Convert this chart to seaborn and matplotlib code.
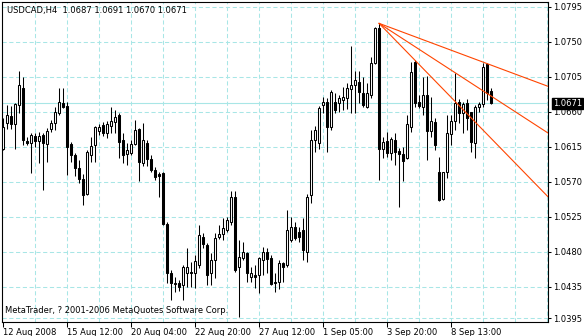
import numpy as np
import pandas as pd
import matplotlib
matplotlib.use("Agg")
import matplotlib.pyplot as plt
import matplotlib.transforms as mtransforms
import seaborn as sns

# ---------------- data ----------------
symbol_header = "USDCAD,H4  1.0687 1.0691 1.0670 1.0671"
copyright_text = "MetaTrader, ? 2001-2006 MetaQuotes Software Corp."

opens = [1.0612, 1.0646, 1.0655, 1.0645, 1.0669, 1.0691, 1.0623, 1.0620, 1.0629, 1.0623,
         1.0630, 1.0619, 1.0638, 1.0646, 1.0659, 1.0672, 1.0668, 1.0619, 1.0605, 1.0588,
         1.0574, 1.0555, 1.0605, 1.0618, 1.0636, 1.0643, 1.0633, 1.0642, 1.0647, 1.0656,
         1.0624, 1.0606, 1.0607, 1.0619, 1.0638, 1.0594, 1.0620, 1.0600, 1.0585, 1.0580,
         1.0582, 1.0516, 1.0453, 1.0439, 1.0440, 1.0438, 1.0453, 1.0454, 1.0453, 1.0463,
         1.0499, 1.0489, 1.0453, 1.0470, 1.0499, 1.0503, 1.0508, 1.0519, 1.0551, 1.0461,
         1.0472, 1.0479, 1.0448, 1.0450, 1.0450, 1.0470, 1.0480, 1.0472, 1.0441, 1.0441,
         1.0466, 1.0463, 1.0495, 1.0512, 1.0506, 1.0508, 1.0480, 1.0553, 1.0624, 1.0620,
         1.0669, 1.0673, 1.0641, 1.0673, 1.0672, 1.0675, 1.0678, 1.0690, 1.0695, 1.0699,
         1.0684, 1.0666, 1.0682, 1.0723, 1.0768, 1.0612, 1.0623, 1.0607, 1.0624, 1.0610,
         1.0606, 1.0601, 1.0641, 1.0724, 1.0673, 1.0666, 1.0682, 1.0636, 1.0647, 1.0583,
         1.0548, 1.0583, 1.0632, 1.0648, 1.0673, 1.0659, 1.0672, 1.0660, 1.0620, 1.0666,
         1.0670, 1.0722, 1.0687]

highs = [1.0652, 1.0669, 1.0668, 1.0672, 1.0713, 1.0705, 1.0628, 1.0633, 1.0633, 1.0634,
         1.0633, 1.0639, 1.0650, 1.0666, 1.0691, 1.0691, 1.0673, 1.0621, 1.0607, 1.0598,
         1.0580, 1.0611, 1.0628, 1.0642, 1.0645, 1.0647, 1.0648, 1.0666, 1.0663, 1.0659,
         1.0633, 1.0620, 1.0624, 1.0650, 1.0639, 1.0646, 1.0624, 1.0605, 1.0589, 1.0583,
         1.0583, 1.0519, 1.0457, 1.0448, 1.0444, 1.0463, 1.0485, 1.0467, 1.0476, 1.0515,
         1.0504, 1.0492, 1.0479, 1.0504, 1.0515, 1.0524, 1.0525, 1.0558, 1.0558, 1.0495,
         1.0493, 1.0480, 1.0461, 1.0463, 1.0474, 1.0486, 1.0485, 1.0476, 1.0453, 1.0470,
         1.0467, 1.0534, 1.0525, 1.0519, 1.0512, 1.0524, 1.0555, 1.0637, 1.0642, 1.0668,
         1.0679, 1.0678, 1.0688, 1.0684, 1.0682, 1.0692, 1.0697, 1.0745, 1.0713, 1.0713,
         1.0705, 1.0697, 1.0731, 1.0769, 1.0774, 1.0628, 1.0634, 1.0628, 1.0633, 1.0614,
         1.0615, 1.0656, 1.0724, 1.0727, 1.0682, 1.0705, 1.0706, 1.0679, 1.0652, 1.0602,
         1.0583, 1.0656, 1.0656, 1.0710, 1.0677, 1.0673, 1.0677, 1.0660, 1.0669, 1.0673,
         1.0723, 1.0723, 1.0691]

lows = [1.0611, 1.0638, 1.0638, 1.0612, 1.0659, 1.0618, 1.0618, 1.0582, 1.0615, 1.0594,
        1.0560, 1.0596, 1.0634, 1.0637, 1.0656, 1.0665, 1.0579, 1.0596, 1.0578, 1.0569,
        1.0540, 1.0553, 1.0596, 1.0596, 1.0630, 1.0629, 1.0627, 1.0633, 1.0633, 1.0601,
        1.0594, 1.0592, 1.0605, 1.0618, 1.0571, 1.0591, 1.0591, 1.0583, 1.0573, 1.0551,
        1.0515, 1.0440, 1.0418, 1.0429, 1.0430, 1.0418, 1.0435, 1.0435, 1.0434, 1.0460,
        1.0485, 1.0438, 1.0438, 1.0447, 1.0497, 1.0495, 1.0506, 1.0515, 1.0454, 1.0396,
        1.0470, 1.0441, 1.0441, 1.0434, 1.0427, 1.0450, 1.0453, 1.0438, 1.0429, 1.0433,
        1.0441, 1.0461, 1.0493, 1.0495, 1.0493, 1.0470, 1.0467, 1.0543, 1.0609, 1.0612,
        1.0659, 1.0609, 1.0637, 1.0659, 1.0660, 1.0663, 1.0664, 1.0659, 1.0659, 1.0672,
        1.0666, 1.0665, 1.0678, 1.0722, 1.0573, 1.0601, 1.0602, 1.0598, 1.0592, 1.0538,
        1.0571, 1.0600, 1.0634, 1.0666, 1.0665, 1.0656, 1.0598, 1.0628, 1.0611, 1.0546,
        1.0547, 1.0575, 1.0618, 1.0637, 1.0646, 1.0633, 1.0637, 1.0609, 1.0601, 1.0660,
        1.0666, 1.0675, 1.0670]

closes = [1.0641, 1.0656, 1.0645, 1.0670, 1.0695, 1.0624, 1.0620, 1.0630, 1.0623, 1.0629,
          1.0620, 1.0636, 1.0646, 1.0660, 1.0673, 1.0666, 1.0615, 1.0605, 1.0588, 1.0574,
          1.0553, 1.0609, 1.0616, 1.0641, 1.0641, 1.0633, 1.0645, 1.0648, 1.0654, 1.0621,
          1.0605, 1.0611, 1.0619, 1.0637, 1.0596, 1.0624, 1.0600, 1.0585, 1.0576, 1.0578,
          1.0516, 1.0453, 1.0440, 1.0440, 1.0435, 1.0461, 1.0461, 1.0453, 1.0469, 1.0502,
          1.0490, 1.0450, 1.0470, 1.0498, 1.0503, 1.0511, 1.0521, 1.0551, 1.0457, 1.0474,
          1.0480, 1.0453, 1.0453, 1.0448, 1.0472, 1.0480, 1.0471, 1.0439, 1.0440, 1.0466,
          1.0461, 1.0508, 1.0512, 1.0498, 1.0499, 1.0483, 1.0551, 1.0624, 1.0637, 1.0665,
          1.0673, 1.0641, 1.0686, 1.0663, 1.0678, 1.0679, 1.0691, 1.0695, 1.0701, 1.0686,
          1.0669, 1.0684, 1.0723, 1.0768, 1.0612, 1.0621, 1.0607, 1.0625, 1.0609, 1.0606,
          1.0597, 1.0645, 1.0711, 1.0672, 1.0668, 1.0682, 1.0636, 1.0648, 1.0618, 1.0547,
          1.0583, 1.0633, 1.0648, 1.0672, 1.0659, 1.0670, 1.0652, 1.0621, 1.0666, 1.0670,
          1.0718, 1.0684, 1.0671]

date_labels = ["12 Aug 2008", "15 Aug 12:00", "20 Aug 04:00", "22 Aug 20:00",
               "27 Aug 12:00", "1 Sep 05:00", "3 Sep 20:00", "8 Sep 13:00"]
date_label_bars = [0, 16, 32, 48, 64, 80, 96, 112]
price_ticks = [1.0795, 1.0750, 1.0705, 1.0660, 1.0615, 1.0570, 1.0525, 1.0480, 1.0435, 1.0395]
current_price = 1.0671

fan_anchor_bar = 94
fan_anchor_price = 1.0774
fan_end_bar = 136.25
fan_end_prices = [1.0693, 1.0633, 1.0551]

# ---------------- style ----------------
sns.set_style("white")
plt.rcParams['font.family'] = ['DejaVu Sans']

GRID = "#a8e6e6"
FAN = "#ff4500"

df = pd.DataFrame({"bar": np.arange(len(opens)), "open": opens, "high": highs,
                   "low": lows, "close": closes})
df["bull"] = df["close"] >= df["open"]
df["body_lo"] = df[["open", "close"]].min(axis=1)
df["body_h"] = (df["close"] - df["open"]).abs()

W, H = 584, 336
fig = plt.figure(figsize=(W / 100, H / 100), dpi=100)
fig.patch.set_facecolor("white")
ax = fig.add_axes([2 / W, 1 - 322 / H, 546 / W, 320 / H])
ax.set_facecolor("white")

x_min, x_max = -0.25, 136.25
y_min, y_max = 1.0390, 1.08014
ax.set_xlim(x_min, x_max)
ax.set_ylim(y_min, y_max)

# grid
for gx in np.arange(8, 137, 8):
    ax.axvline(gx, color=GRID, lw=0.75, ls=(0, (4, 2.5)), zorder=0.5)
for gy in price_ticks:
    ax.axhline(gy, color=GRID, lw=0.75, ls=(0, (4, 2.5)), zorder=0.5)

# current price line
ax.axhline(current_price, color=GRID, lw=0.8, zorder=0.8)

# candles
ax.vlines(df["bar"], df["low"], df["high"], color="black", lw=0.75, zorder=2)
ax.bar(df["bar"], df["body_h"], bottom=df["body_lo"], width=0.5,
       color=np.where(df["bull"], "white", "black"), edgecolor="black",
       linewidth=0.75, zorder=3)

# Fibonacci fan lines
fan_rows = []
for k, p_end in enumerate(fan_end_prices):
    fan_rows.append({"line": k, "bar": fan_anchor_bar, "price": fan_anchor_price})
    fan_rows.append({"line": k, "bar": fan_end_bar, "price": p_end})
fan_df = pd.DataFrame(fan_rows)
sns.lineplot(data=fan_df, x="bar", y="price", units="line", estimator=None,
             color=FAN, lw=0.8, ax=ax, zorder=4, legend=False)
ax.set_xlabel("")
ax.set_ylabel("")

# spines
for s in ax.spines.values():
    s.set_visible(True)
    s.set_color("black")
    s.set_linewidth(0.8)

# ticks
ax.yaxis.tick_right()
ax.set_yticks(price_ticks)
ax.set_yticklabels([f"{p:.4f}" for p in price_ticks])
ax.set_xticks(date_label_bars)
ax.set_xticklabels(date_labels)
for lbl in ax.get_xticklabels():
    lbl.set_ha("left")
ax.tick_params(axis="y", which="both", right=True, left=False, direction="out",
               length=2.5, width=0.75, pad=1.0, labelsize=6, colors="black")
ax.tick_params(axis="x", which="both", bottom=True, direction="out",
               length=3.5, width=0.75, pad=0.5, labelsize=6, colors="black")

# current price tag
trans = mtransforms.blended_transform_factory(ax.transAxes, ax.transData)
ax.text(1 + 5 / 546, current_price + 0.00004, f"{current_price:.4f}", transform=trans,
        ha="left", va="center", fontsize=6, color="white", zorder=10, clip_on=False,
        bbox=dict(boxstyle="square,pad=0.12", facecolor="black", edgecolor="black"))

# header and copyright
ax.text(5 / 546, (322 - 10.5) / 320, symbol_header, transform=ax.transAxes,
        ha="left", va="center", fontsize=6, color="black", zorder=10)
ax.text(3 / 546, (322 - 310.5) / 320, copyright_text, transform=ax.transAxes,
        ha="left", va="center", fontsize=6, color="black", zorder=10)

fig.savefig("out.png", dpi=100, facecolor="white")
